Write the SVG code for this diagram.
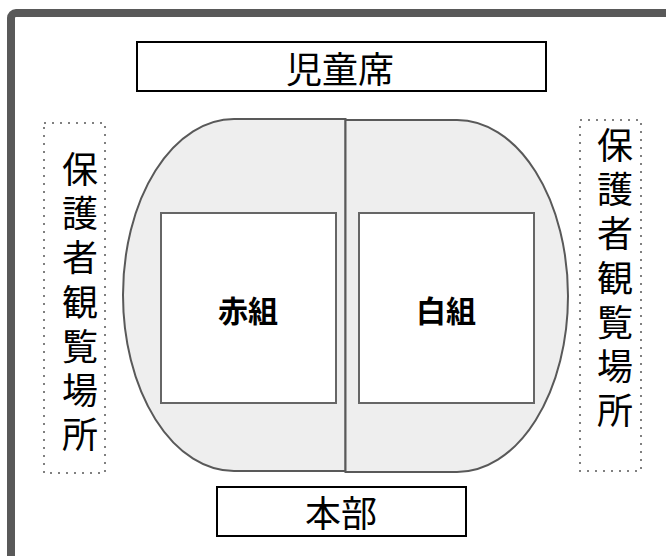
<svg xmlns="http://www.w3.org/2000/svg" width="666" height="556" viewBox="0 0 666 556">
<style>
.lbl{font-family:"Noto Sans CJK JP","Noto Sans CJK SC",sans-serif;font-size:36px;fill:#000;text-anchor:middle;dominant-baseline:central}
.team{font-family:"Noto Sans CJK JP","Noto Sans CJK SC",sans-serif;font-size:30px;font-weight:bold;fill:#000;text-anchor:middle;dominant-baseline:central}
.box{fill:#fff;stroke:#000;stroke-width:2}
.half{fill:#eeeeee;stroke:#595959;stroke-width:2}
.inner{fill:#fff;stroke:#666;stroke-width:2}
.dot{fill:none;stroke:#808080;stroke-width:2;stroke-dasharray:2 6}
</style>
<rect width="666" height="556" fill="#fff"/>
<rect id="frame" x="11" y="13" width="720" height="620" rx="5" fill="none" stroke="#595959" stroke-width="8"/>
<g id="seats">
<rect class="box" x="137" y="42" width="409" height="49"/>
<text class="lbl" x="340" y="67">児童席</text>
</g>
<g id="honbu">
<rect class="box" x="217" y="487" width="249" height="49"/>
<text class="lbl" x="341" y="511">本部</text>
</g>
<g id="red-half">
<path class="half" d="M345.5,119 L234,119 A111,176 0 0 0 234,471 L345.5,471 Z"/>
</g>
<g id="white-half">
<path class="half" d="M345.5,120 L457,120 A111,176 0 0 1 457,472 L345.5,472 Z"/>
</g>
<g id="red">
<rect class="inner" x="161" y="213" width="175" height="190"/>
<text class="team" x="248" y="309">赤組</text>
</g>
<g id="white">
<rect class="inner" x="359" y="213" width="175" height="190"/>
<text class="team" x="446" y="309">白組</text>
</g>
<g id="guardians-left">
<rect class="dot" x="44" y="123" width="61" height="350"/>
<text class="lbl" x="80"><tspan x="80" y="167">保</tspan><tspan x="80" y="211">護</tspan><tspan x="80" y="255">者</tspan><tspan x="80" y="300">観</tspan><tspan x="80" y="344">覧</tspan><tspan x="80" y="388">場</tspan><tspan x="80" y="432">所</tspan></text>
</g>
<g id="guardians-right">
<rect class="dot" x="580" y="120" width="61" height="351"/>
<text class="lbl" x="615"><tspan x="615" y="143">保</tspan><tspan x="615" y="187">護</tspan><tspan x="615" y="231">者</tspan><tspan x="615" y="276">観</tspan><tspan x="615" y="320">覧</tspan><tspan x="615" y="364">場</tspan><tspan x="615" y="408">所</tspan></text>
</g>
<g id="connectors"></g>
</svg>
